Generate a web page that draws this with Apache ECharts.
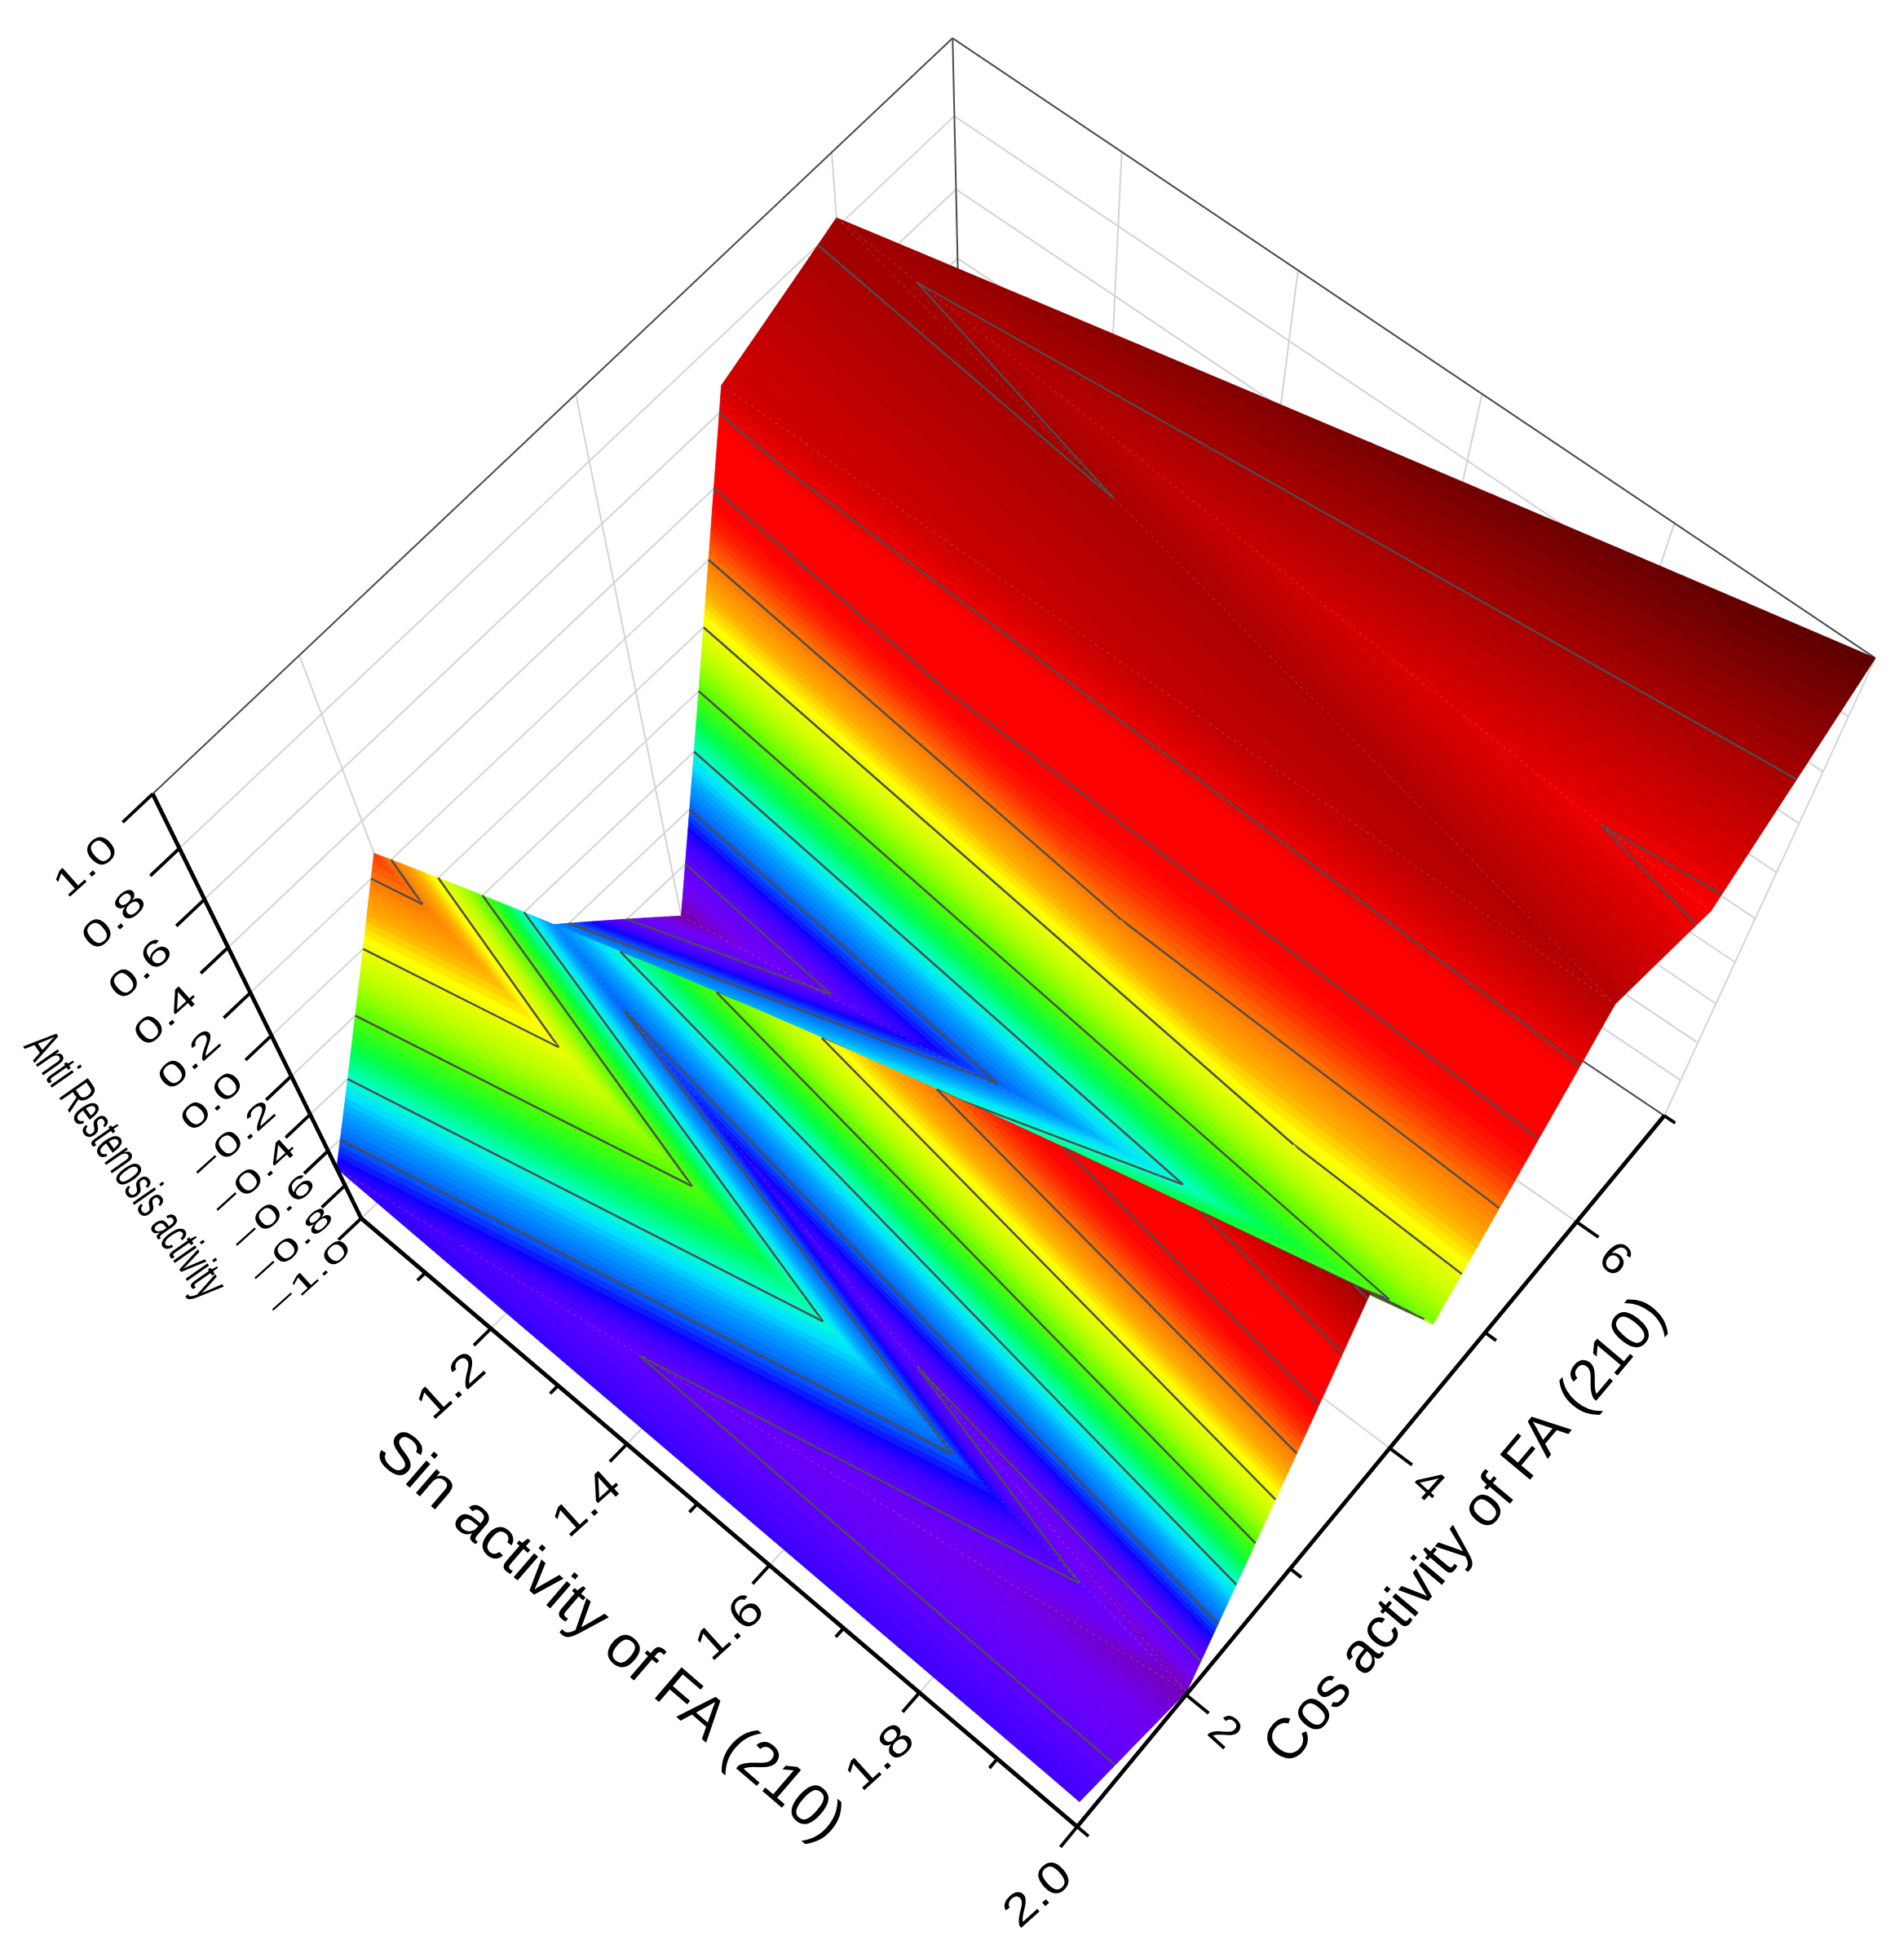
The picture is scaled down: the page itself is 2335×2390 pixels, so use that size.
<!DOCTYPE html>
<html>
<head>
<meta charset="utf-8">
<title>Anti Restenosis activity</title>
<script src="https://cdn.jsdelivr.net/npm/echarts@6/dist/echarts.min.js"></script>
<style>
html,body{margin:0;padding:0;background:#fff;}
#main{width:2335px;height:2390px;}
</style>
</head>
<body>
<div id="main"></div>
<script>
// data: the surface only has nodes at sin=1 and sin=2
var sinValues = [1, 2];
var cosValues = [1, 2, 3, 4, 5, 6, 7];
var zAtSin1 = [-0.70, 0.27, -0.55, -1.0, 0.67, 0.825];
var zAtSin2 = [-0.72, -0.97, 0.82, -0.16, 0.76, 0.57, 1.0];

// axis ticks
var sinMajor = [1.2, 1.4, 1.6, 1.8, 2.0];
var sinMinor = [1.1, 1.3, 1.5, 1.7, 1.9];
var cosMajor = [2, 4, 6];
var cosMinor = [1, 3, 5, 7];
var zTicks = [-1.0, -0.8, -0.6, -0.4, -0.2, 0.0, 0.2, 0.4, 0.6, 0.8, 1.0];
var zContours = [-0.8, -0.6, -0.4, -0.2, 0.0, 0.2, 0.4, 0.6, 0.8];

// colour scale
var scaleZ = [-1, -0.9, -0.8, -0.72, -0.67, -0.6, -0.5, -0.45, -0.4, -0.3, -0.2, -0.1, 0, 0.03, 0.1, 0.2, 0.3, 0.36, 0.56, 0.64, 0.76, 0.82, 1];
var scaleColor = ['#78009a', '#7000f0', '#6000ff', '#3f00ff', '#1000ff', '#0060ff', '#00a8ff', '#00e0ff', '#00ffd0', '#00ff40', '#50ff00', '#b0ff00', '#eeff00', '#ffff00', '#ffb000', '#ff7800', '#ff2000', '#ff0000', '#ff0000', '#dd0000', '#b40000', '#a00000', '#5a0000'];

// triangles of the surface, back to front, vertices are [sin index, cos index]
var triangles = [
    [0,5, 1,5, 1,6],
    [0,5, 1,4, 1,5],
    [0,4, 1,4, 0,5],
    [0,4, 1,3, 1,4],
    [0,3, 1,3, 0,4],
    [0,2, 1,3, 0,3],
    [0,2, 1,2, 1,3],
    [0,2, 1,1, 1,2],
    [0,1, 1,1, 0,2],
    [0,0, 1,1, 0,1],
    [0,0, 1,0, 1,1]
];
// faint dotted mesh lines along the diagonals
var creases = [[0,5,1,5], [0,5,1,4], [0,4,1,4], [0,3,1,3], [0,2,1,1], [0,1,1,1], [0,0,1,1]];

function nodeZ(si, ci) {
    return si == 0 ? zAtSin1[ci] : zAtSin2[ci];
}

// perspective of the box, floor corners and vanishing point
var floorL = [443, 1494], floorF = [1321, 2240], floorR = [2041, 1368], floorB = [1185, 793];
var vanish = [1237, 3110];
var depthK = 0.2436;

var hg = -0.1152, hh = 0.1226;
function project(sin, cos, z) {
    var u = sin - 1, v = (cos - 1) / 6, w = (z + 1) / 2;
    var d = hg * u + hh * v + 1;
    var fx = ((floorF[0] * (1 + hg) - floorL[0]) * u + (floorB[0] * (1 + hh) - floorL[0]) * v + floorL[0]) / d;
    var fy = ((floorF[1] * (1 + hg) - floorL[1]) * u + (floorB[1] * (1 + hh) - floorL[1]) * v + floorL[1]) / d;
    var s = 1 / (1 - depthK * w);
    return [vanish[0] + (fx - vanish[0]) * s, vanish[1] + (fy - vanish[1]) * s];
}

function colorAt(z) {
    var i = 0;
    while (i < scaleZ.length - 2 && z > scaleZ[i + 1]) i++;
    var t = (z - scaleZ[i]) / (scaleZ[i + 1] - scaleZ[i]);
    var a = scaleColor[i], b = scaleColor[i + 1], out = [];
    for (var k = 0; k < 3; k++) {
        var ca = parseInt(a.substr(1 + k * 2, 2), 16), cb = parseInt(b.substr(1 + k * 2, 2), 16);
        out.push(Math.round(ca + (cb - ca) * t));
    }
    return 'rgb(' + out.join(',') + ')';
}

// cut a polygon of [sin,cos,z] points to z >= level (keep=1) or z <= level (keep=-1)
function clipZ(poly, level, keep) {
    var out = [];
    for (var i = 0; i < poly.length; i++) {
        var a = poly[i], b = poly[(i + 1) % poly.length];
        var ina = (a[2] - level) * keep >= 0, inb = (b[2] - level) * keep >= 0;
        if (ina) out.push(a);
        if (ina != inb) {
            var t = (level - a[2]) / (b[2] - a[2]);
            out.push([a[0] + (b[0] - a[0]) * t, a[1] + (b[1] - a[1]) * t, level]);
        }
    }
    return out;
}

function contourSegment(pts, level) {
    var hit = [];
    for (var i = 0; i < 3; i++) {
        var a = pts[i], b = pts[(i + 1) % 3];
        if ((a[2] - level) * (b[2] - level) < 0) {
            var t = (level - a[2]) / (b[2] - a[2]);
            hit.push([a[0] + (b[0] - a[0]) * t, a[1] + (b[1] - a[1]) * t, level]);
        }
    }
    return hit.length == 2 ? hit : null;
}

function toPixel(api, p) {
    var xy = project(p[0], p[1], p[2]);
    return api.coord(xy);
}

var bandStep = 0.02;
function renderTriangle(params, api) {
    var t = triangles[params.dataIndex];
    var pts = [];
    for (var i = 0; i < 3; i++) {
        pts.push([sinValues[t[i * 2]], cosValues[t[i * 2 + 1]], nodeZ(t[i * 2], t[i * 2 + 1])]);
    }
    var children = [];
    for (var b = 0; b < 100; b++) {
        var lo = -1 + b * bandStep, hi = lo + bandStep;
        var poly = clipZ(clipZ(pts, lo, 1), hi, -1);
        if (poly.length < 3) continue;
        var c = colorAt(lo + bandStep / 2);
        var ring = [];
        for (var j = 0; j < poly.length; j++) ring.push(toPixel(api, poly[j]));
        children.push({type: 'polygon', shape: {points: ring}, style: {fill: c, stroke: c, lineWidth: 0.8}, silent: true});
    }
    for (var n = 0; n < zContours.length; n++) {
        var seg = contourSegment(pts, zContours[n]);
        if (!seg) continue;
        var p1 = toPixel(api, seg[0]), p2 = toPixel(api, seg[1]);
        children.push({type: 'line', shape: {x1: p1[0], y1: p1[1], x2: p2[0], y2: p2[1]}, style: {stroke: '#4d4d4d', lineWidth: 2.5}, silent: true});
    }
    return {type: 'group', children: children};
}

var lineStyles = {
    grid: {stroke: '#d4d4d4', lineWidth: 2},
    box: {stroke: '#4a4a4a', lineWidth: 2},
    crease: {stroke: 'rgba(215,215,215,0.4)', lineWidth: 1, lineDash: [2, 7]},
    axis: {stroke: '#000', lineWidth: 5},
    tick: {stroke: '#000', lineWidth: 4}
};
function renderLine(params, api) {
    var d = params.seriesName == 'walls' ? wallLines[params.dataIndex] : (params.seriesName == 'creases' ? creaseLines[params.dataIndex] : axisLines[params.dataIndex]);
    var a = toPixel(api, [d[0], d[1], d[2]]), b = toPixel(api, [d[3], d[4], d[5]]);
    return {type: 'line', shape: {x1: a[0], y1: a[1], x2: b[0], y2: b[1]}, style: lineStyles[d[6]], silent: true};
}

// walls and floor
var wallLines = [];
var sinTop = sinValues[0], sinEnd = sinValues[1], cosLow = cosValues[0], cosHigh = cosValues[6];
zTicks.slice(1, 10).forEach(function (z) {
    wallLines.push([sinTop, cosLow, z, sinTop, cosHigh, z, 'grid']);
    wallLines.push([sinTop, cosHigh, z, sinEnd, cosHigh, z, 'grid']);
});
cosMajor.forEach(function (c) {
    wallLines.push([sinTop, c, -1, sinTop, c, 1, 'grid']);
    wallLines.push([sinTop, c, -1, sinEnd, c, -1, 'grid']);
});
sinMajor.slice(0, 4).forEach(function (s) {
    wallLines.push([s, cosHigh, -1, s, cosHigh, 1, 'grid']);
    wallLines.push([s, cosLow, -1, s, cosHigh, -1, 'grid']);
});
wallLines.push([sinTop, cosLow, -1, sinTop, cosHigh, -1, 'grid']);
wallLines.push([sinEnd, cosHigh, -1, sinEnd, cosHigh, 1, 'grid']);
wallLines.push([sinTop, cosHigh, -1, sinEnd, cosHigh, -1, 'box']);
wallLines.push([sinTop, cosHigh, -1, sinTop, cosHigh, 1, 'box']);
wallLines.push([sinTop, cosLow, 1, sinTop, cosHigh, 1, 'box']);
wallLines.push([sinTop, cosHigh, 1, sinEnd, cosHigh, 1, 'box']);

var creaseLines = creases.map(function (c) {
    return [sinValues[c[0]], cosValues[c[1]], nodeZ(c[0], c[1]), sinValues[c[2]], cosValues[c[3]], nodeZ(c[2], c[3]), 'crease'];
});

// black axes and ticks
var axisLines = [
    [sinTop, cosLow, -1, sinEnd, cosLow, -1, 'axis'],
    [sinEnd, cosLow, -1, sinEnd, cosHigh, -1, 'axis'],
    [sinTop, cosLow, -1, sinTop, cosLow, 1, 'axis']
];
sinMajor.forEach(function (s) { axisLines.push([s, cosLow, -1, s, cosLow - 0.15, -1, 'tick']); });
sinMinor.forEach(function (s) { axisLines.push([s, cosLow, -1, s, cosLow - 0.07, -1, 'tick']); });
cosMajor.forEach(function (c) { axisLines.push([sinEnd, c, -1, sinEnd + 0.028, c, -1, 'tick']); });
cosMinor.forEach(function (c) { axisLines.push([sinEnd, c, -1, sinEnd + 0.014, c, -1, 'tick']); });
zTicks.forEach(function (z) { axisLines.push([sinTop, cosLow, z, sinTop, cosLow - 0.2, z, 'tick']); });

function addOffset(p, dx, dy) { return [p[0] + dx, p[1] + dy]; }

// texts
var labelFont = 'Liberation Sans, Arial, sans-serif';
var textItems = [];
sinMajor.forEach(function (s) {
    var p = addOffset(project(s, cosLow - 0.42, -1), 11, 14);
    textItems.push({text: s.toFixed(1), pos: p, rot: 42, size: 50, sx: 1.32, sy: 1.1});
});
cosMajor.forEach(function (c) {
    var p = addOffset(project(sinEnd, c, -1), 46, 47);
    textItems.push({text: String(c), pos: p, rot: -42, size: 50, sx: 1.15, sy: 1.1});
});
zTicks.forEach(function (z, i) {
    var p = addOffset(project(sinTop, cosLow, z), -63 - 1.8 * i, 74 + 1.6 * i);
    textItems.push({text: z.toFixed(1).replace('-', '\u2212'), pos: p, rot: 42, size: 46, sx: 1.38, sy: 0.72 + 0.03 * i});
});
textItems.push({text: 'Sin activity of FA (210)', pos: [747, 2008], rot: -40.7, size: 73, sx: 1, sy: 1});
textItems.push({text: 'Cos activity of FA (210)', pos: [1798, 1878], rot: 50, size: 70, sx: 1, sy: 1});
textItems.push({text: 'Anti Restenosis activity', pos: [152, 1430], rot: -55, size: 62, sx: 0.6, sy: 1});

function renderText(params, api) {
    var d = textItems[params.dataIndex];
    var xy = api.coord(d.pos);
    return {
        type: 'text', x: xy[0], y: xy[1], rotation: d.rot * Math.PI / 180, scaleX: d.sx, scaleY: d.sy, silent: true,
        style: {text: d.text, fontSize: d.size, fontFamily: labelFont, fill: '#000', align: 'center', verticalAlign: 'middle'}
    };
}

function indexData(list) {
    return list.map(function (d, i) { return [i, i]; });
}

var chart = echarts.init(document.getElementById('main'));
chart.setOption({
    animation: false,
    backgroundColor: '#fff',
    grid: {left: 0, right: 0, top: 0, bottom: 0},
    xAxis: {type: 'value', min: 0, max: 2335, show: false},
    yAxis: {type: 'value', min: 0, max: 2390, inverse: true, show: false},
    series: [
        {name: 'walls', type: 'custom', coordinateSystem: 'cartesian2d', clip: false, renderItem: renderLine, data: indexData(wallLines), z: 1},
        {name: 'surface', type: 'custom', coordinateSystem: 'cartesian2d', clip: false, renderItem: renderTriangle, data: indexData(triangles), z: 2},
        {name: 'creases', type: 'custom', coordinateSystem: 'cartesian2d', clip: false, renderItem: renderLine, data: indexData(creaseLines), z: 3},
        {name: 'axes', type: 'custom', coordinateSystem: 'cartesian2d', clip: false, renderItem: renderLine, data: indexData(axisLines), z: 4},
        {name: 'texts', type: 'custom', coordinateSystem: 'cartesian2d', clip: false, renderItem: renderText, data: indexData(textItems), z: 5}
    ]
});
</script>
</body>
</html>
